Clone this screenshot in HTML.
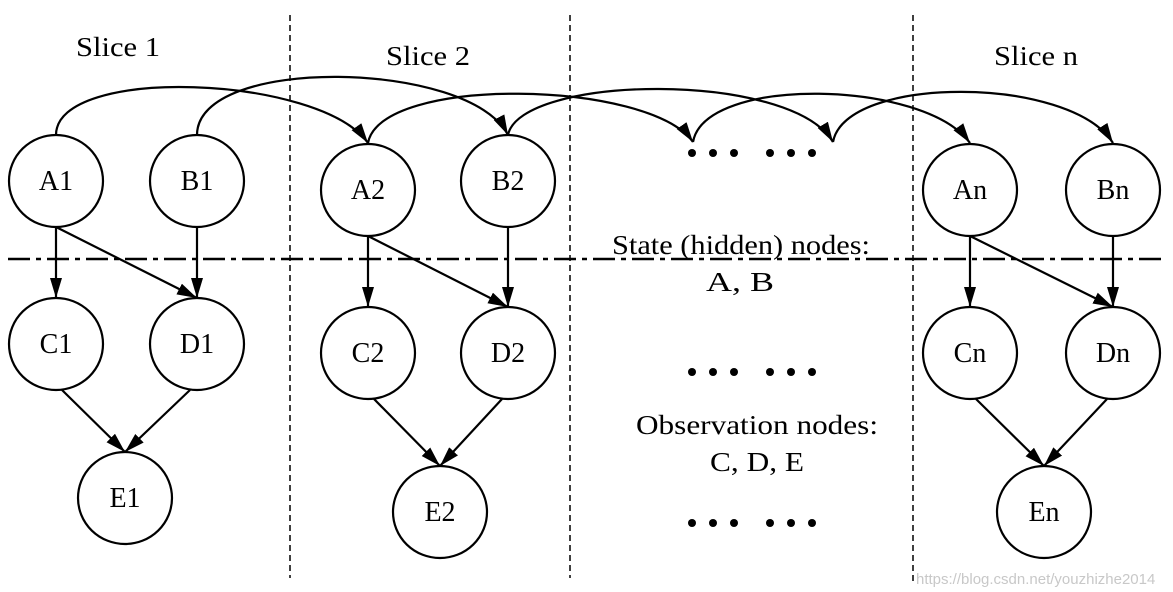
<!DOCTYPE html>
<html><head><meta charset="utf-8"><style>
html,body{margin:0;padding:0;background:#fff;}
svg{display:block;}
text{font-family:"Liberation Serif",serif;fill:#000;}
</style></head><body>
<svg width="1173" height="592" viewBox="0 0 1173 592" xmlns="http://www.w3.org/2000/svg">
<defs>
<marker id="ar" markerUnits="userSpaceOnUse" markerWidth="22" markerHeight="14" refX="20" refY="6" orient="auto">
<path d="M0,0 L20,6 L0,12 z" fill="#000"/>
</marker>
</defs>
<g stroke="#000" stroke-width="1.5" stroke-dasharray="6,4">
<line x1="290" y1="15" x2="290" y2="578"/>
<line x1="570" y1="15" x2="570" y2="578"/>
<line x1="913" y1="15" x2="913" y2="585"/>
</g>
<line x1="8" y1="259" x2="1165" y2="259" stroke="#000" stroke-width="2.5" stroke-dasharray="22,6,5,6"/>
<g font-size="27" text-anchor="middle" lengthAdjust="spacingAndGlyphs">
<text x="118" y="56" textLength="84" lengthAdjust="spacingAndGlyphs">Slice 1</text>
<text x="428" y="65" textLength="84" lengthAdjust="spacingAndGlyphs">Slice 2</text>
<text x="1036" y="65" textLength="84" lengthAdjust="spacingAndGlyphs">Slice n</text>
<text x="741" y="254" textLength="258" lengthAdjust="spacingAndGlyphs">State (hidden) nodes:</text>
<text x="740" y="291" textLength="68" lengthAdjust="spacingAndGlyphs">A, B</text>
<text x="757" y="434" textLength="242" lengthAdjust="spacingAndGlyphs">Observation nodes:</text>
<text x="757" y="471" textLength="94" lengthAdjust="spacingAndGlyphs">C, D, E</text>
</g>
<g fill="#000">
<circle cx="692" cy="153" r="4"/><circle cx="713" cy="153" r="4"/><circle cx="734" cy="153" r="4"/>
<circle cx="770" cy="153" r="4"/><circle cx="791" cy="153" r="4"/><circle cx="812" cy="153" r="4"/>
<circle cx="692" cy="372" r="4"/><circle cx="713" cy="372" r="4"/><circle cx="734" cy="372" r="4"/>
<circle cx="770" cy="372" r="4"/><circle cx="791" cy="372" r="4"/><circle cx="812" cy="372" r="4"/>
<circle cx="692" cy="523" r="4"/><circle cx="713" cy="523" r="4"/><circle cx="734" cy="523" r="4"/>
<circle cx="770" cy="523" r="4"/><circle cx="791" cy="523" r="4"/><circle cx="812" cy="523" r="4"/>
</g>
<g fill="none" stroke="#000" stroke-width="2.2" marker-end="url(#ar)">
<path d="M56,135 C56,65 320,75 368,143"/>
<path d="M197,135 C197,55 470,60 508,135"/>
<path d="M368,143 C380,75 650,80 693,142"/>
<path d="M508,135 C520,75 790,70 833,142"/>
<path d="M693,142 C705,75 925,80 970,143"/>
<path d="M833,142 C845,75 1070,75 1113,143"/>
<line x1="56" y1="227" x2="56" y2="298"/>
<line x1="56" y1="227" x2="197" y2="298"/>
<line x1="197" y1="227" x2="197" y2="298"/>
<line x1="368" y1="236" x2="368" y2="307"/>
<line x1="368" y1="236" x2="508" y2="307"/>
<line x1="508" y1="227" x2="508" y2="307"/>
<line x1="970" y1="236" x2="970" y2="307"/>
<line x1="970" y1="236" x2="1113" y2="307"/>
<line x1="1113" y1="236" x2="1113" y2="307"/>
<line x1="62" y1="390" x2="125" y2="452"/>
<line x1="190" y1="390" x2="125" y2="452"/>
<line x1="374" y1="399" x2="440" y2="466"/>
<line x1="502" y1="399" x2="440" y2="466"/>
<line x1="976" y1="399" x2="1044" y2="466"/>
<line x1="1107" y1="399" x2="1044" y2="466"/>
</g>
<g fill="#fff" stroke="#000" stroke-width="2.2">
<ellipse cx="56" cy="181" rx="47" ry="46"/>
<ellipse cx="197" cy="181" rx="47" ry="46"/>
<ellipse cx="368" cy="190" rx="47" ry="46"/>
<ellipse cx="508" cy="181" rx="47" ry="46"/>
<ellipse cx="970" cy="190" rx="47" ry="46"/>
<ellipse cx="1113" cy="190" rx="47" ry="46"/>
<ellipse cx="56" cy="344" rx="47" ry="46"/>
<ellipse cx="197" cy="344" rx="47" ry="46"/>
<ellipse cx="368" cy="353" rx="47" ry="46"/>
<ellipse cx="508" cy="353" rx="47" ry="46"/>
<ellipse cx="970" cy="353" rx="47" ry="46"/>
<ellipse cx="1113" cy="353" rx="47" ry="46"/>
<ellipse cx="125" cy="498" rx="47" ry="46"/>
<ellipse cx="440" cy="512" rx="47" ry="46"/>
<ellipse cx="1044" cy="512" rx="47" ry="46"/>
</g>
<g font-size="28" text-anchor="middle">
<text x="56" y="190">A1</text>
<text x="197" y="190">B1</text>
<text x="368" y="199">A2</text>
<text x="508" y="190">B2</text>
<text x="970" y="199">An</text>
<text x="1113" y="199">Bn</text>
<text x="56" y="353">C1</text>
<text x="197" y="353">D1</text>
<text x="368" y="362">C2</text>
<text x="508" y="362">D2</text>
<text x="970" y="362">Cn</text>
<text x="1113" y="362">Dn</text>
<text x="125" y="507">E1</text>
<text x="440" y="521">E2</text>
<text x="1044" y="521">En</text>
</g>
<text x="916" y="584" font-size="15" style="font-family:'Liberation Sans',sans-serif;fill:#c8c8c8">https://blog.csdn.net/youzhizhe2014</text>
</svg>
</body></html>
